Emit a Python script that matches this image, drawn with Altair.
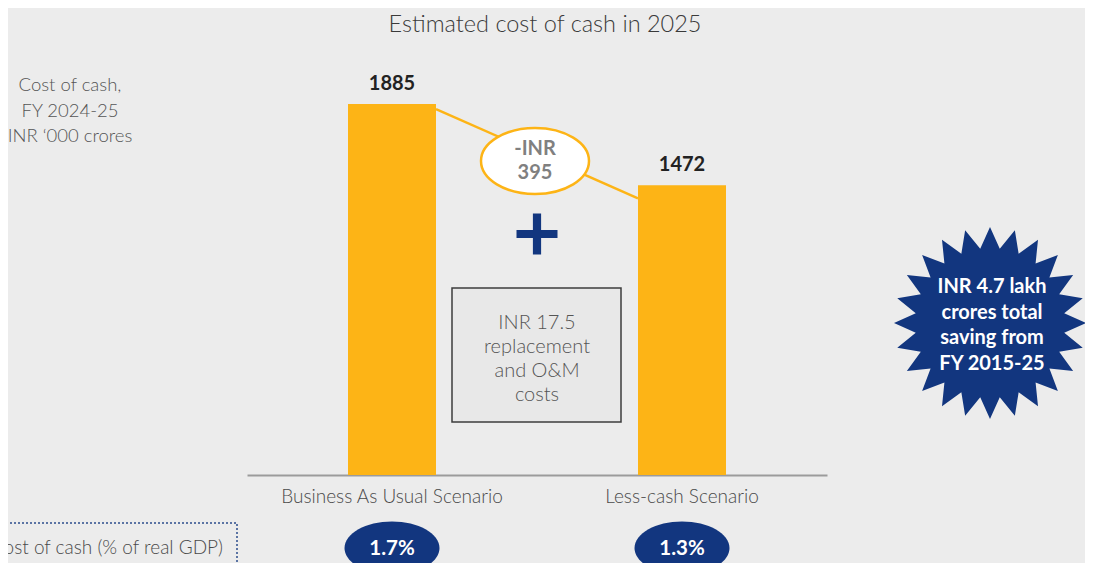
import altair as alt
import pandas as pd
import numpy as np

# ---------------- data ----------------
categories = ["Business As Usual Scenario", "Less-cash Scenario"]
cost_of_cash = [1885, 1472]
gdp_share = ["1.7%", "1.3%"]
reduction_text = ["-INR", "395"]
axis_note = ["Cost of cash,", "FY 2024-25", "INR \u2018000 crores"]
box_note = ["INR 17.5", "replacement", "and O&M", "costs"]
burst_note = ["INR 4.7 lakh", "crores total", "saving from", "FY 2015-25"]
gdp_note = ["Cost of cash (% of real GDP)"]
title_text = ["Estimated cost of cash in 2025"]

# ---------------- style ----------------
ORANGE = "#FDB416"
NAVY = "#12367F"
BG = "#ECECEC"
FONT = "Lato"
GREY_TXT = "#4A4A4A"
LIGHT = 300

ELLIPSE_BIG = "M-1,0A1,0.611,0,1,1,1,0A1,0.611,0,1,1,-1,0Z"
ELLIPSE_SMALL = "M-1,0A1,0.56,0,1,1,1,0A1,0.56,0,1,1,-1,0Z"
PLUS = "M-0.2,-1H0.2V-0.2H1V0.2H0.2V1H-0.2V0.2H-1V-0.2H-0.2Z"

n_pts = 24
ang = -np.pi / 2 + np.arange(2 * n_pts) * np.pi / n_pts
rad = np.where(np.arange(2 * n_pts) % 2 == 0, 1.0, 0.78)
STAR = "M" + "L".join(f"{r*np.cos(a):.4f},{r*np.sin(a):.4f}" for r, a in zip(rad, ang)) + "Z"

bars_df = pd.DataFrame({"scenario": categories, "cost": cost_of_cash, "gdp": gdp_share})

x_enc = alt.X(
    "scenario:N",
    sort=categories,
    scale=alt.Scale(range=[239, 819], paddingInner=0.6966, paddingOuter=0.3483),
    axis=alt.Axis(
        title=None, labelAngle=0, ticks=False, domainColor="#9B9B9B", domainWidth=2,
        labelFont=FONT, labelFontSize=19, labelFontWeight=LIGHT, labelColor=GREY_TXT,
        labelPadding=12, labelLimit=400,
    ),
)
y_scale = alt.Scale(domain=[0, 2373], nice=False, zero=True)
y_enc = alt.Y("cost:Q", scale=y_scale, axis=None)

bars = alt.Chart(bars_df).mark_bar(color=ORANGE).encode(x=x_enc, y=y_enc)
bar_labels = alt.Chart(bars_df).mark_text(
    dy=-20, fontSize=20, fontWeight="bold", color="#222222", font=FONT
).encode(x=x_enc, y=y_enc, text="cost:Q")

conn_df = pd.DataFrame({"start": [cost_of_cash[0]], "end": [cost_of_cash[1]]})
connector = alt.Chart(conn_df).mark_rule(
    color=ORANGE, strokeWidth=2.5, yOffset=5, y2Offset=13
).encode(
    x=alt.value(428), x2=alt.value(630),
    y=alt.Y("start:Q", scale=y_scale, axis=None), y2="end:Q",
)

one = pd.DataFrame({"k": [0]})

red_ellipse = alt.Chart(one).mark_point(
    shape=ELLIPSE_BIG, size=108 * 108, filled=True, fill="white",
    stroke=ORANGE, strokeWidth=2.5, opacity=1,
).encode(x=alt.value(527), y=alt.value(153))
red_text = alt.Chart(pd.DataFrame({"t": ["\n".join(reduction_text)]})).mark_text(
    fontSize=20, fontWeight="bold", color="#808080", font=FONT, lineBreak="\n",
    lineHeight=24, baseline="middle",
).encode(x=alt.value(527), y=alt.value(141), text="t:N")

plus = alt.Chart(one).mark_point(
    shape=PLUS, size=41 * 41, filled=True, color=NAVY, opacity=1
).encode(x=alt.value(529), y=alt.value(226))

box = alt.Chart(one).mark_rect(
    fill="#E8E8E8", stroke="#3C3C3C", strokeWidth=1.5
).encode(x=alt.value(444), x2=alt.value(613), y=alt.value(280), y2=alt.value(414))
box_text = alt.Chart(pd.DataFrame({"t": ["\n".join(box_note)]})).mark_text(
    fontSize=20, fontWeight=LIGHT, color="#555555", font=FONT, lineBreak="\n",
    lineHeight=24, baseline="middle",
).encode(x=alt.value(529), y=alt.value(315), text="t:N")

burst = alt.Chart(one).mark_point(
    shape=STAR, size=192 * 192, filled=True, color=NAVY, opacity=1
).encode(x=alt.value(982), y=alt.value(315))
burst_text = alt.Chart(pd.DataFrame({"t": ["\n".join(burst_note)]})).mark_text(
    fontSize=20, fontWeight="bold", color="white", font=FONT, lineBreak="\n",
    lineHeight=25.5, baseline="middle",
).encode(x=alt.value(984), y=alt.value(279), text="t:N")

left_note = alt.Chart(pd.DataFrame({"t": ["\n".join(axis_note)]})).mark_text(
    fontSize=18.5, fontWeight=LIGHT, color="#555555", font=FONT, lineBreak="\n",
    lineHeight=25.5, baseline="middle",
).encode(x=alt.value(62), y=alt.value(77), text="t:N")

title = alt.Chart(pd.DataFrame({"t": title_text})).mark_text(
    fontSize=23.5, fontWeight=LIGHT, color="#3A3A3A", font=FONT, baseline="middle",
).encode(x=alt.value(537), y=alt.value(17), text="t:N")

gdp_box = alt.Chart(one).mark_rect(
    fillOpacity=0, stroke="#2B4C8C", strokeWidth=1.5, strokeDash=[2, 2]
).encode(x=alt.value(-30), x2=alt.value(229), y=alt.value(515), y2=alt.value(640))
gdp_text = alt.Chart(pd.DataFrame({"t": gdp_note})).mark_text(
    fontSize=19, fontWeight=LIGHT, color=GREY_TXT, font=FONT, align="right", baseline="middle",
).encode(x=alt.value(215), y=alt.value(540), text="t:N")

gdp_ellipses = alt.Chart(bars_df).mark_point(
    shape=ELLIPSE_SMALL, size=95 * 95, filled=True, color=NAVY, opacity=1
).encode(x=x_enc, y=alt.value(540))
gdp_labels = alt.Chart(bars_df).mark_text(
    fontSize=20.5, fontWeight="bold", color="white", font=FONT, baseline="middle",
).encode(x=x_enc, y=alt.value(541), text="gdp:N")

chart = alt.layer(
    title, left_note, connector, bars, bar_labels, red_ellipse, red_text, plus,
    box, box_text, burst, burst_text, gdp_box, gdp_text, gdp_ellipses, gdp_labels,
).properties(
    width=1077, height=467,
    padding={"left": 0, "top": 0, "right": 0, "bottom": 88},
    autosize=alt.AutoSizeParams(type="none"),
    background=BG,
).configure_view(stroke=None)

chart.save("out.html", embed_options={"renderer": "svg", "actions": False})
